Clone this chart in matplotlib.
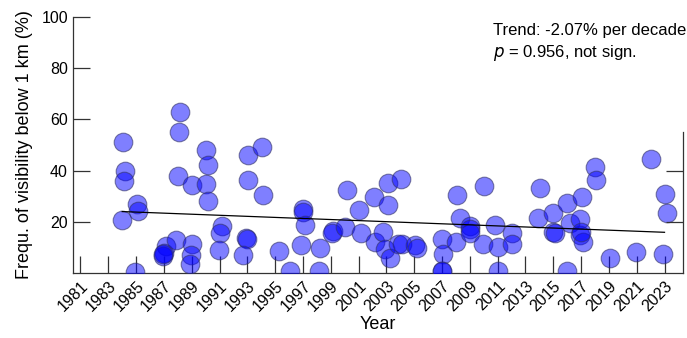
import numpy as np
import matplotlib
matplotlib.use("Agg")
from matplotlib import pyplot as plt
from matplotlib import transforms

plt.rcParams['font.family'] = ['Liberation Sans', 'DejaVu Sans']

# point positions (year, slightly spread) and values
years = [1984.06, 1984.19, 1984.14, 1984.01, 1985.03, 1985.12, 1984.94,
         1987.14, 1987.0, 1986.9, 1986.95,
         1988.14, 1988.07, 1987.98, 1987.9,
         1988.99, 1989.0, 1988.94, 1988.86,
         1990.06, 1990.16, 1990.0, 1990.16,
         1991.2, 1991.0, 1990.97,
         1993.07, 1993.04, 1992.9, 1992.95, 1992.7,
         1994.08, 1994.15, 1995.28, 1996.06,
         1997.0, 1997.0, 1997.14, 1996.85,
         1998.2, 1998.14, 1999.15, 1999.08,
         2000.14, 2000.0, 2001.0, 2001.16, 2002.1, 2002.17,
         2003.13, 2003.09, 2002.77, 2002.9, 2003.25,
         2004.04, 2003.85, 2004.1, 2005.05, 2005.17,
         2007.0, 2007.04, 2007.0, 2007.02,
         2008.05, 2008.29, 2008.0,
         2009.0, 2009.0, 2009.0,
         2010.0, 2009.96, 2010.8, 2011.04, 2011.04,
         2012.06, 2012.0, 2014.04, 2013.92,
         2015.0, 2015.0, 2015.1,
         2015.96, 2016.2, 2015.96,
         2017.04, 2016.9, 2016.9, 2017.16, 2017.0,
         2018.0, 2018.1, 2019.1, 2020.95, 2022.03,
         2023.05, 2023.16, 2022.9]
values = [51.0, 40.0, 35.9, 20.7, 26.8, 24.4, 0.5,
          10.5, 8.0, 6.8, 7.5,
          62.7, 55.2, 37.9, 12.9,
          34.4, 11.3, 7.0, 3.5,
          48.0, 42.2, 34.6, 28.3,
          18.2, 15.6, 9.0,
          46.1, 36.3, 13.5, 13.2, 7.2,
          49.2, 30.5, 8.5, 0.8,
          25.0, 23.8, 18.6, 10.9,
          9.9, 0.8, 16.6, 15.6,
          32.4, 18.1, 24.6, 15.5, 29.8, 12.2,
          35.0, 26.6, 16.1, 9.4, 6.0,
          36.8, 11.2, 11.2, 10.9, 9.6,
          13.3, 7.3, 0.8, 0.6,
          30.5, 21.6, 12.2,
          18.4, 17.2, 15.5,
          34.1, 11.2, 18.7, 10.3, 0.8,
          15.5, 11.2, 33.1, 21.6,
          23.3, 16.1, 15.6,
          27.2, 19.4, 0.8,
          29.8, 21.1, 14.8, 12.2, 16.0,
          41.5, 36.3, 6.0, 8.3, 44.5,
          30.7, 23.6, 7.3]

trend_years = [1984, 2023]
trend_vals = [24.0, 15.9]

xtick_years = list(range(1981, 2024, 2))

fig = plt.figure(figsize=(6.87, 3.38), dpi=100)
ax = fig.add_axes([0.1060, 0.1923, 0.8882, 0.7574])

ax.scatter(years, values, s=180, facecolor=(0, 0, 1, 0.5),
           edgecolor=(0.2, 0.2, 0.4, 0.6), linewidth=0.8, zorder=3)
ax.plot(trend_years, trend_vals, color='black', linewidth=0.9, zorder=4)

ax.set_xlim(1980.45, 2024.33)
ax.set_ylim(0, 100)

ax.set_xticks(xtick_years)
ax.set_xticklabels([str(y) for y in xtick_years], rotation=45,
                   ha='right', rotation_mode='anchor', fontsize=11.5)
shift = transforms.ScaledTranslation(3 / 100, 0, fig.dpi_scale_trans)
for lbl in ax.get_xticklabels():
    lbl.set_transform(lbl.get_transform() + shift)
ax.set_yticks([20, 40, 60, 80, 100])
ax.tick_params(axis='both', direction='in', length=12, width=0.9,
               color='#333333', labelsize=11.5)
ax.tick_params(axis='x', pad=4)

for side in ['top', 'right']:
    ax.spines[side].set_visible(False)
for side in ['left', 'bottom']:
    ax.spines[side].set_color('#333333')
    ax.spines[side].set_linewidth(0.9)

# short right-hand axis with two ticks
ax2 = ax.twinx()
ax2.set_ylim(0, 100)
ax2.set_yticks([20, 40])
ax2.tick_params(direction='in', length=12, width=0.9, color='#333333',
                labelright=False)
for side in ['top', 'left', 'bottom']:
    ax2.spines[side].set_visible(False)
ax2.spines['right'].set_bounds(0, 55)
ax2.spines['right'].set_color('#333333')
ax2.spines['right'].set_linewidth(0.9)

ax.set_xlabel('Year', fontsize=13, labelpad=1)
ax.set_ylabel('Frequ. of visibility below 1 km (%)', fontsize=13, labelpad=6)

ax.text(0.689, 0.93, 'Trend: -2.07% per decade', transform=ax.transAxes,
        fontsize=12, va='baseline')
ax.text(0.689, 0.844, '$\\mathit{p}$ = 0.956, not sign.', transform=ax.transAxes,
        fontsize=12, va='baseline')

fig.savefig('out.png', dpi=100)
